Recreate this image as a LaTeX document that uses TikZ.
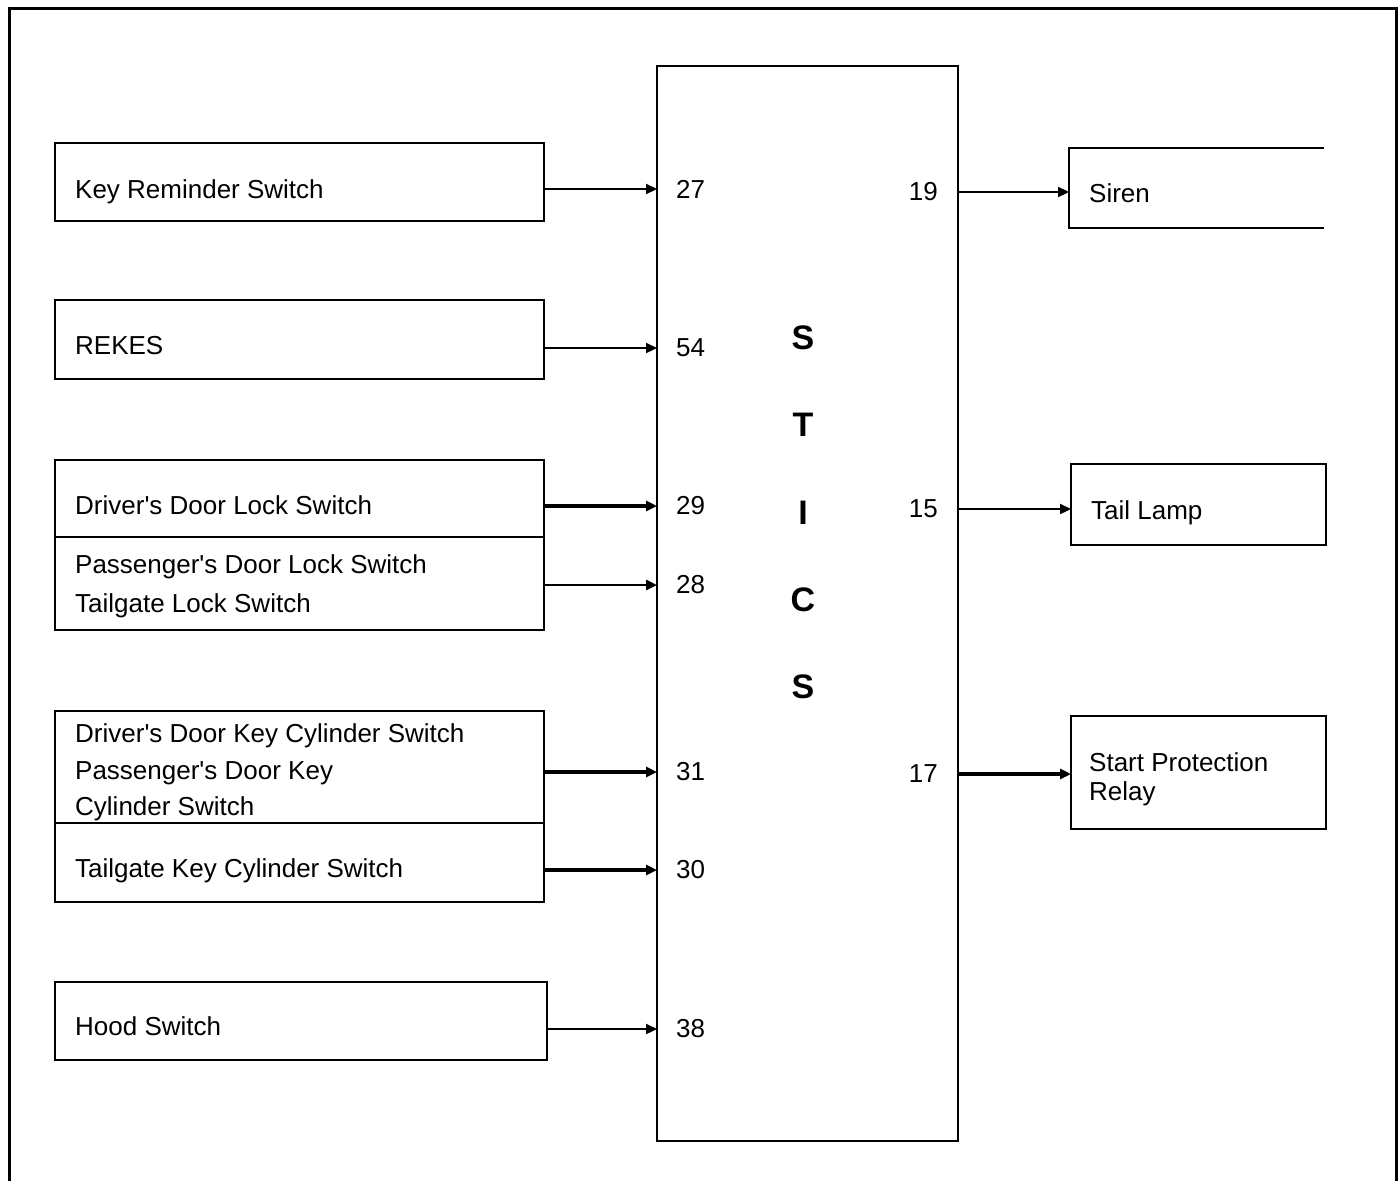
\documentclass[tikz,border=0pt]{standalone}
\usepackage{fontspec}
\setmainfont{Liberation Sans}
\usetikzlibrary{arrows.meta}
\tikzset{
  box/.style={draw, line width=2pt, inner sep=0pt, outer sep=0pt, rectangle},
  openbox/.style={inner sep=0pt, outer sep=0pt, rectangle},
  lbl/.style={anchor=base west, inner sep=0pt, font=\fontsize{26}{30}\selectfont},
  portl/.style={anchor=west, inner sep=0pt, font=\fontsize{26}{30}\selectfont},
  portr/.style={anchor=east, inner sep=0pt, font=\fontsize{26}{30}\selectfont},
  big/.style={inner sep=0pt, font=\fontsize{34}{40}\selectfont\bfseries},
  arr/.style={line width=2.2pt, -{Triangle[length=11pt,width=10pt]}},
  thickarr/.style={line width=3.5pt, -{Triangle[length=11pt,width=10pt]}},
}
\newcommand{\ap}{\textquotesingle}
\begin{document}
\begin{tikzpicture}[x=1pt,y=-1pt]
\useasboundingbox (0,0) rectangle (1399,1181);
% outer frame
\draw[line width=3pt] (9,1181) -- (9,8) -- (1396,8) -- (1396,1181);

% central unit
\node[box, line width=2.5pt, minimum width=301pt, minimum height=1075pt] (stics) at (807.5,603.5) {};
\foreach \c/\yy/\n in {S/338/s1, T/425/s2, I/513/s3, C/600/s4, S/687/s5}
  \node[big] (\n) at (803,\yy) {\c};

% left boxes
\node[box, minimum width=489pt, minimum height=78pt] (kr) at (299.5,182) {};
\node[box, minimum width=489pt, minimum height=79pt] (rekes) at (299.5,339.5) {};
\node[box, minimum width=489pt, minimum height=77pt] (dd) at (299.5,498.5) {};
\node[box, minimum width=489pt, minimum height=93pt] (pd) at (299.5,583.5) {};
\node[box, minimum width=489pt, minimum height=112pt] (dk) at (299.5,767) {};
\node[box, minimum width=489pt, minimum height=79pt] (tk) at (299.5,862.5) {};
\node[box, minimum width=492pt, minimum height=78pt] (hood) at (301,1021) {};

% left texts
\node[lbl] (krt) at (75,198) {Key Reminder Switch};
\node[lbl] (rekest) at (75,354) {REKES};
\node[lbl] (ddt) at (75,514) {Driver\ap s Door Lock Switch};
\node[lbl] (pdt1) at (75,573) {Passenger\ap s Door Lock Switch};
\node[lbl] (pdt2) at (75,612) {Tailgate Lock Switch};
\node[lbl] (dkt1) at (75,742) {Driver\ap s Door Key Cylinder Switch};
\node[lbl] (dkt2) at (75,779) {Passenger\ap s Door Key};
\node[lbl] (dkt3) at (75,815) {Cylinder Switch};
\node[lbl] (tkt) at (75,877) {Tailgate Key Cylinder Switch};
\node[lbl] (hoodt) at (75,1035) {Hood Switch};

% right boxes
\node[openbox, minimum width=255pt, minimum height=80pt] (siren) at (1196.5,188) {};
\draw[line width=2pt] (siren.north east) -- (siren.north west) -- (siren.south west) -- (siren.south east);
\node[box, minimum width=255pt, minimum height=81pt] (tail) at (1198.5,504.5) {};
\node[box, minimum width=255pt, minimum height=113pt] (relay) at (1198.5,772.5) {};

\node[lbl] (sirent) at (1089,202) {Siren};
\node[lbl] (tailt) at (1091,519) {Tail Lamp};
\node[lbl] (relayt1) at (1089,771) {Start Protection};
\node[lbl] (relayt2) at (1089,800) {Relay};

% port numbers
\node[portl] (p27) at (676,189) {27};
\node[portl] (p54) at (676,348) {54};
\node[portl] (p29) at (676,506) {29};
\node[portl] (p28) at (676,585) {28};
\node[portl] (p31) at (676,772) {31};
\node[portl] (p30) at (676,870) {30};
\node[portl] (p38) at (676,1029) {38};
\node[portr] (p19) at (938,192) {19};
\node[portr] (p15) at (938,509) {15};
\node[portr] (p17) at (938,774) {17};

% connectors
\draw[arr] (kr.east |- p27.west) -- (stics.west |- p27.west);
\draw[arr] (rekes.east |- p54.west) -- (stics.west |- p54.west);
\draw[thickarr] (dd.east |- p29.west) -- (stics.west |- p29.west);
\draw[arr, line width=2.8pt] (pd.east |- p28.west) -- (stics.west |- p28.west);
\draw[thickarr] (dk.east |- p31.west) -- (stics.west |- p31.west);
\draw[thickarr] (tk.east |- p30.west) -- (stics.west |- p30.west);
\draw[arr] (hood.east |- p38.west) -- (stics.west |- p38.west);
\draw[arr] (stics.east |- p19.east) -- (siren.west |- p19.east);
\draw[arr] (stics.east |- p15.east) -- (tail.west |- p15.east);
\draw[thickarr] (stics.east |- p17.east) -- (relay.west |- p17.east);
\end{tikzpicture}
\end{document}
